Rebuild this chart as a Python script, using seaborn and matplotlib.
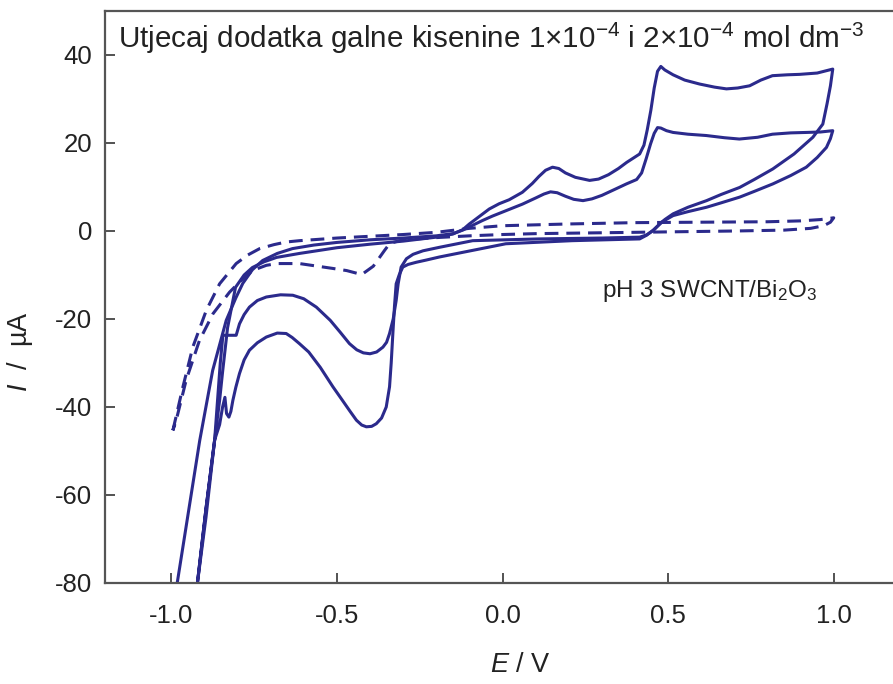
import numpy as np
import matplotlib
matplotlib.use("Agg")
from matplotlib import pyplot as plt
import seaborn as sns

# CV curves: E in V, I in uA
# 1x10^-4 gallic acid (smaller loop)
s1_anod_E = [-0.99, -0.982, -0.914, -0.875, -0.834, -0.805, -0.784, -0.755, -0.724, -0.68, -0.634, -0.57,
             -0.5, -0.4, -0.3, -0.2, -0.15, -0.12, -0.09, -0.06, -0.03, 0.01, 0.06, 0.1, 0.125, 0.145,
             0.165, 0.19, 0.215, 0.243, 0.27, 0.3, 0.34, 0.374, 0.405, 0.42, 0.434, 0.447, 0.458, 0.468,
             0.478, 0.495, 0.515, 0.56, 0.615, 0.67, 0.715, 0.77, 0.815, 0.87, 0.917, 0.96, 0.997]
s1_anod_I = [-90, -80, -47.6, -31.7, -20.3, -15.2, -11.9, -8.8, -6.7, -5.1, -4.0, -3.2,
             -2.6, -2.0, -1.6, -1.1, -0.6, 0.2, 1.3, 2.4, 3.4, 4.6, 6.1, 7.5, 8.4, 8.9,
             8.7, 7.9, 7.2, 6.9, 7.3, 8.1, 9.5, 10.7, 11.7, 13.2, 16.5, 19.8, 22.2, 23.5,
             23.4, 22.8, 22.4, 22.0, 21.7, 21.2, 20.9, 21.3, 22.0, 22.3, 22.4, 22.5, 22.8]
s1_cath_E = [0.997, 0.99, 0.978, 0.95, 0.917, 0.87, 0.816, 0.76, 0.716, 0.66, 0.616, 0.56, 0.515, 0.48,
             0.455, 0.435, 0.414, 0.3, 0.11, -0.09, -0.19, -0.24, -0.27, -0.29, -0.306, -0.315, -0.321,
             -0.33, -0.341, -0.35, -0.361, -0.38, -0.4, -0.42, -0.44, -0.462, -0.49, -0.52, -0.562, -0.6,
             -0.633, -0.67, -0.713, -0.74, -0.764, -0.78, -0.794, -0.804, -0.844, -0.852, -0.869, -0.895,
             -0.921, -0.935]
s1_cath_I = [22.8, 21.0, 19.0, 16.7, 14.5, 12.6, 10.7, 9.0, 7.7, 6.4, 5.4, 4.4, 3.5, 2.0,
             0.1, -0.9, -1.4, -1.6, -1.8, -2.2, -3.7, -4.5, -5.3, -6.3, -8.2, -12.0, -15.8,
             -20.0, -23.3, -25.3, -26.4, -27.5, -27.9, -27.7, -27.0, -25.6, -23.0, -20.3, -17.3, -15.4,
             -14.6, -14.5, -15.0, -15.8, -17.3, -19.0, -21.1, -23.7, -23.7, -30.0, -47.5, -65.0,
             -80.0, -90.0]

# 2x10^-4 gallic acid (larger loop)
s2_anod_E = [-0.935, -0.921, -0.895, -0.869, -0.854, -0.845, -0.83, -0.806, -0.78, -0.755, -0.72, -0.682,
             -0.613, -0.5, -0.4, -0.3, -0.2, -0.15, -0.12, -0.1, -0.07, -0.04, -0.01, 0.02, 0.06, 0.09,
             0.11, 0.13, 0.151, 0.17, 0.19, 0.22, 0.263, 0.29, 0.32, 0.35, 0.375, 0.414, 0.427, 0.437,
             0.448, 0.458, 0.468, 0.478, 0.49, 0.515, 0.55, 0.595, 0.64, 0.676, 0.71, 0.746, 0.78, 0.815,
             0.86, 0.897, 0.95, 0.997]
s2_anod_I = [-90, -80, -63.0, -47.5, -38.5, -32.0, -22.0, -12.8, -10.0, -8.3, -7.0, -6.0,
             -5.1, -3.8, -3.0, -2.3, -1.4, -0.7, 0.3, 1.6, 3.3, 5.0, 6.2, 7.1, 8.8, 10.8,
             12.4, 13.8, 14.5, 14.2, 13.2, 12.2, 11.5, 11.8, 12.8, 14.2, 15.6, 17.5, 19.5, 23.0,
             27.5, 32.5, 36.3, 37.4, 36.6, 35.5, 34.3, 33.4, 32.7, 32.3, 32.5, 33.0, 34.3, 35.3,
             35.5, 35.6, 35.9, 36.8]
s2_cath_E = [0.997, 0.99, 0.98, 0.967, 0.937, 0.88, 0.816, 0.76, 0.716, 0.66, 0.616, 0.56, 0.515, 0.49,
             0.475, 0.455, 0.434, 0.414, 0.21, 0.01, -0.09, -0.19, -0.23, -0.26, -0.285, -0.301, -0.312,
             -0.321, -0.326, -0.331, -0.336, -0.341, -0.351, -0.365, -0.381, -0.395, -0.411, -0.425, -0.441,
             -0.46, -0.485, -0.512, -0.55, -0.585, -0.613, -0.635, -0.653, -0.68, -0.713, -0.74, -0.764,
             -0.78, -0.794, -0.805, -0.814, -0.82, -0.826, -0.833, -0.838, -0.845, -0.854, -0.869, -0.895,
             -0.921, -0.935]
s2_cath_I = [36.8, 33.0, 29.0, 24.3, 21.3, 17.5, 14.1, 11.7, 9.9, 8.3, 6.9, 5.4, 3.9, 2.6,
             1.6, 0.2, -1.0, -1.8, -2.2, -2.9, -4.4, -5.9, -6.6, -7.1, -7.6, -8.2, -10.0,
             -12.0, -17.0, -23.3, -30.0, -35.4, -40.0, -42.5, -43.8, -44.4, -44.5, -44.1, -43.0,
             -41.0, -38.3, -35.4, -31.0, -27.5, -25.6, -24.2, -23.3, -23.2, -24.1, -25.4, -27.1,
             -29.3, -32.4, -35.5, -38.5, -41.0, -42.3, -41.5, -37.8, -40.0, -44.0, -47.5, -63.0,
             -80.0, -90.0]

# blank electrolyte (dashed)
blank_anod_E = [-0.995, -0.965, -0.935, -0.894, -0.854, -0.804, -0.77, -0.733, -0.69, -0.653, -0.613,
                -0.5, -0.4, -0.3, -0.2, -0.1, 0.0, 0.2, 0.4, 0.6, 0.8, 0.9, 0.96, 1.0]
blank_anod_I = [-45.3, -35.5, -26.4, -18.0, -12.0, -7.4, -5.5, -4.0, -3.1, -2.5, -2.2,
                -1.6, -1.2, -0.8, -0.3, 0.6, 1.2, 1.6, 1.9, 2.0, 2.1, 2.3, 2.6, 3.0]
blank_cath_E = [1.0, 0.99, 0.97, 0.93, 0.85, 0.7, 0.5, 0.3, 0.1, 0.0, -0.1, -0.2, -0.3, -0.34, -0.356,
                -0.39, -0.425, -0.47, -0.513, -0.613, -0.68, -0.713, -0.745, -0.774, -0.824, -0.874, -0.915,
                -0.955, -0.985, -0.995]
blank_cath_I = [3.0, 2.0, 1.2, 0.6, 0.2, 0.0, -0.2, -0.4, -0.6, -0.8, -1.1, -1.5, -2.0, -2.8, -4.4,
                -8.0, -9.9, -9.0, -8.5, -7.4, -7.4, -7.8, -8.7, -10.1, -13.9, -18.8, -24.9,
                -33.9, -43.0, -45.3]

x_ticks = [-1.0, -0.5, 0.0, 0.5, 1.0]
y_ticks = [-80, -60, -40, -20, 0, 20, 40]

line_col = '#2b2a8c'
text_col = '#222222'

sns.set_style('ticks')
plt.rcParams['font.family'] = ['Liberation Sans', 'DejaVu Sans']
plt.rcParams['mathtext.fontset'] = 'custom'
plt.rcParams['mathtext.rm'] = 'Liberation Sans'
plt.rcParams['mathtext.it'] = 'Liberation Sans:italic'
plt.rcParams['axes.unicode_minus'] = False

fig = plt.figure(figsize=(8.93, 6.84), dpi=100)
ax = fig.add_axes([105 / 893, 101 / 684, 795 / 893, 572 / 684])

loops = [(s1_anod_E + s1_cath_E, s1_anod_I + s1_cath_I),
         (s2_anod_E + s2_cath_E, s2_anod_I + s2_cath_I)]
for E, I in loops:
    sns.lineplot(x=E, y=I, sort=False, estimator=None, color=line_col, lw=2.2, ax=ax)
sns.lineplot(x=blank_anod_E + blank_cath_E, y=blank_anod_I + blank_cath_I, sort=False,
             estimator=None, color=line_col, lw=2.2, linestyle=(0, (4.5, 2.6)), ax=ax)

ax.set_xlim(-1.2, 1.2)
ax.set_ylim(-80, 50)
ax.set_xticks(x_ticks)
ax.set_xticklabels([f'{v:.1f}' for v in x_ticks])
ax.set_yticks(y_ticks)
ax.tick_params(direction='in', length=7, width=1.3, color='#444444', labelsize=18.5,
               labelcolor=text_col)
ax.tick_params(axis='x', pad=15)
ax.tick_params(axis='y', pad=9)
for sp in ax.spines.values():
    sp.set_color('#555555')
    sp.set_linewidth(1.6)

ax.set_xlabel(r'$E$ / V', fontsize=19.5, color=text_col)
ax.set_ylabel(r'$I$  /  µA', fontsize=19.5, color=text_col)
ax.xaxis.set_label_coords(0.522, -0.121)
ax.yaxis.set_label_coords(-0.088, 0.404)

ax.text(0.016, 0.935, r'Utjecaj dodatka galne kisenine 1×10$^{-4}$ i 2×10$^{-4}$ mol dm$^{-3}$',
        transform=ax.transAxes, fontsize=21.3, color=text_col, va='baseline')
ax.text(0.30, -15.0, r'pH 3 SWCNT/Bi$_2$O$_3$', fontsize=17.5, color=text_col, va='baseline')

fig.savefig('out.png', dpi=100)
